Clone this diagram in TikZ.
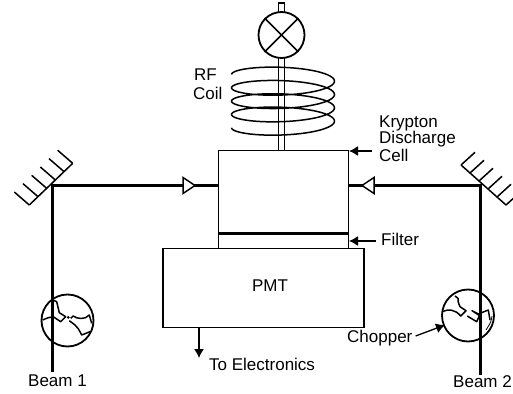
\documentclass[tikz,border=0pt]{standalone}
\usepackage{fontspec}
\setmainfont{Liberation Sans}
\usetikzlibrary{arrows.meta}
\tikzset{
    label/.style={inner sep=0pt, anchor=west, font=\fontsize{17}{17}\selectfont},
    box/.style={draw, line width=1.6pt, inner sep=0pt},
    beam/.style={line width=2.4pt},
    pointer/.style={-{Latex[length=9pt,width=10pt]}, line width=1.3pt},
    blade/.style={line width=1.5pt, line join=round}
}
\begin{document}
\begin{tikzpicture}[x=1pt,y=-1pt]
    \clip (0,0) rectangle (513,393);

    % Lamp and its stem
    \node[draw, circle, line width=1.8pt, minimum size=46pt, inner sep=0pt] (lamp) at (281.5,35) {};
    \draw[line width=1.6pt] (lamp.north west) -- (lamp.south east);
    \draw[line width=1.6pt] (lamp.north east) -- (lamp.south west);
    \draw[line width=1.3pt] (278.5,12) -- (278.5,3) -- (284.5,3) -- (284.5,12);

    % Discharge cell, filter and PMT
    \node[box, minimum width=130pt, minimum height=84pt] (cell) at (283.5,192.5) {};
    \node[box, minimum width=130pt, minimum height=14pt] (filterbox) at (283.5,241.5) {};
    \node[box, minimum width=201pt, minimum height=79pt] (pmt) at (263.5,288) {};
    \node[inner sep=0pt, font=\fontsize{17}{17}\selectfont] (pmtlabel) at (270,286) {PMT};
    \draw[line width=3pt] (filterbox.north west) -- (filterbox.north east);
    \draw[line width=1.3pt] (278.5,58) -- (278.5,150);
    \draw[line width=1.3pt] (284.5,58) -- (284.5,150);

    % RF coil
    \draw[line width=1.5pt, smooth] plot[domain=-180:1260, samples=220, variable=\t]
        ({283+51.5*cos(\t)}, {74.5+10.5*sin(\t)+0.037*(\t+180)});

    % Mirrors
    \coordinate (mirrorL) at (52.5,185.5);
    \coordinate (mirrorR) at (480,185.5);
    \foreach \i in {0,1,...,5} {
        \draw[line width=1.5pt] ({29.3+8.68*\i},{205-8.34*\i}) -- ++(-15,-13);
        \draw[line width=1.5pt] ({461+9*\i},{165+8*\i}) -- ++(14,-12.7);
    }
    \draw[line width=1.5pt] (29.3,205) -- (72.7,163.3);
    \draw[line width=1.5pt] (461,165) -- (506,205);

    % Beams
    \coordinate (beamL) at (52.5,372);
    \coordinate (beamR) at (480.5,375);
    \draw[beam] (beamL) -- (mirrorL) -- (cell.west |- mirrorL);
    \draw[line width=2.8pt] (beamR) -- (beamR |- mirrorR) -- (cell.east |- mirrorR);

    % Open triangles on the beams
    \draw[line width=1.5pt, fill=white] (183,177.5) -- (195,185.5) -- (183,193.5) -- cycle;
    \draw[line width=1.5pt, fill=white] (374,177.5) -- (362,185.5) -- (374,193.5) -- cycle;

    % Left chopper
    \node[draw, circle, line width=1.8pt, minimum size=52pt, inner sep=0pt] (chopperL) at (67.5,320.5) {};
    \draw[blade] (42.7,320) .. controls (47,318) and (50,317) .. (53.3,316.7)
        -- (60.7,321.7) -- (65.7,316.7) -- (59.3,312.7) .. controls (58,307) .. (56.7,301.7) -- (52.7,300);
    \draw[blade] (70.7,318.3) -- (73.3,316) .. controls (77,319) and (85,320) .. (89.3,315)
        -- (91.7,323.3);
    \draw[blade] (69.3,320.7) -- (75,325) .. controls (78,328) .. (81.7,335) -- (90,331.7);
    \fill (68.3,317.3) circle (1.5pt);

    % Right chopper
    \node[draw, circle, line width=1.8pt, minimum size=52pt, inner sep=0pt] (chopperR) at (468,315.5) {};
    \draw[blade] (442,311.7) .. controls (448,309) and (455,309) .. (460.7,316)
        -- (466,310.7) -- (460,306.7) .. controls (458,302) .. (458,298.3) -- (455,296);
    \draw[blade] (467.3,316) -- (476.7,321.7) -- (479.5,315.5) -- (472,310.7) -- (478.3,314)
        .. controls (484,312) .. (488.3,310) -- (490,320);
    \draw[line width=0.8pt] (492,316) .. controls (491,322) .. (486,330);

    % Beam end labels
    \node[label] (beam1) at (28,381) {Beam 1};
    \node[label] (beam2) at (453,382) {Beam 2};

    % Other labels
    \node[label] (rf) at (194,75) {RF};
    \node[label] (coil) at (193,93) {Coil};
    \node[label] (krypton) at (379,123) {Krypton};
    \node[label] (discharge) at (379,139) {Discharge};
    \node[label] (celllabel) at (379,155) {Cell};
    \node[label] (filterlabel) at (381,239) {Filter};
    \node[label] (chopperlabel) at (347,338) {Chopper};
    \node[label] (electronics) at (209,364) {To Electronics};

    % Pointers
    \coordinate (cellpoint) at (349,151);
    \coordinate (filterpoint) at (349,241);
    \coordinate (chopperpoint) at (445,325);
    \coordinate (pmtout) at (199,327);
    \coordinate (pmtend) at (199,358);
    \draw[pointer] (372,151) -- (cellpoint);
    \draw[pointer] (376,241) -- (filterpoint);
    \draw[pointer] (chopperlabel.east) ++(3,-2) -- (chopperpoint);
    \draw[pointer] (pmtout) -- (pmtend);
\end{tikzpicture}
\end{document}
